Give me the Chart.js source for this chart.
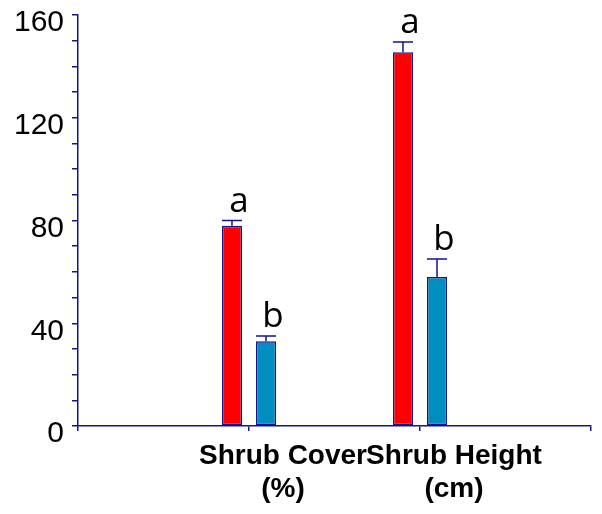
<!DOCTYPE html>
<html>
<head>
<meta charset="utf-8">
<script src="https://cdn.jsdelivr.net/npm/chart.js@4.4.0/dist/chart.umd.min.js"></script>
<style>
  body { margin: 0; background: #fff; }
</style>
</head>
<body>
<canvas id="BarChart" width="602" height="514"></canvas>
<script>
// categories (empty slots at both ends, as in the original axis)
var categories = ['', ['Shrub Cover', '(%)'], ['Shrub Height', '(cm)'], ''];
var redValues = [78, 145.5];
var redErrors = [2, 4];
var redLetters = ['a', 'a'];
var blueValues = [33, 58];
var blueErrors = [2, 7];
var blueLetters = ['b', 'b'];
var yTicks = [0, 40, 80, 120, 160];

function pad(arr) { return [null].concat(arr, [null]); }

var navy = '#14148c';

// error bars + significance letters
var errorBarPlugin = {
  id: 'errorBars',
  afterDatasetsDraw: function (chart) {
    var ctx = chart.ctx;
    var yScale = chart.scales.y;
    chart.data.datasets.forEach(function (ds, di) {
      var meta = chart.getDatasetMeta(di);
      meta.data.forEach(function (bar, i) {
        var v = ds.data[i];
        if (v === null) return;
        var err = ds.errors[i];
        var top = yScale.getPixelForValue(v);
        var cap = yScale.getPixelForValue(v + err);
        var half = bar.width / 2;
        ctx.save();
        ctx.strokeStyle = navy;
        ctx.lineWidth = 1.5;
        ctx.beginPath();
        ctx.moveTo(bar.x, top);
        ctx.lineTo(bar.x, cap);
        ctx.moveTo(bar.x - half, cap);
        ctx.lineTo(bar.x + half, cap);
        ctx.stroke();
        ctx.fillStyle = '#000';
        ctx.font = '35px "Open Sans"';
        ctx.textAlign = 'center';
        ctx.textBaseline = 'alphabetic';
        ctx.fillText(ds.letters[i], bar.x + 7, cap - 9);
        ctx.restore();
      });
    });
  }
};

var ctx = document.getElementById('BarChart').getContext('2d');
var myChart = new Chart(ctx, {
  type: 'bar',
  data: {
    labels: categories,
    datasets: [{
      data: pad(redValues),
      errors: pad(redErrors),
      letters: pad(redLetters),
      backgroundColor: '#ff0000',
      borderColor: navy,
      borderWidth: 1.5,
      borderSkipped: false,
      categoryPercentage: 0.398,
      barPercentage: 0.59
    }, {
      data: pad(blueValues),
      errors: pad(blueErrors),
      letters: pad(blueLetters),
      backgroundColor: '#008ec0',
      borderColor: navy,
      borderWidth: 1.5,
      borderSkipped: false,
      categoryPercentage: 0.398,
      barPercentage: 0.59
    }]
  },
  options: {
    responsive: false,
    animation: false,
    devicePixelRatio: 1,
    layout: { padding: { top: 15, right: 11, left: 0, bottom: 0 } },
    plugins: {
      legend: { display: false },
      tooltip: { enabled: false }
    },
    scales: {
      x: {
        offset: false,
        grid: { offset: false, drawOnChartArea: false, drawTicks: true, tickLength: 5, color: navy, lineWidth: 1.5 },
        border: { color: navy, width: 1.5 },
        ticks: {
          autoSkip: false,
          maxRotation: 0,
          labelOffset: 34,
          padding: 8,
          color: '#000',
          font: { family: '"Liberation Sans", Arial', size: 28, weight: 'bold', lineHeight: 1.2 }
        },
        afterFit: function (s) { s.height = 88; s.paddingLeft = 0; s.paddingRight = 0; }
      },
      y: {
        min: 0,
        max: 160,
        grid: { drawOnChartArea: false, drawTicks: true, tickLength: 6, color: navy, lineWidth: 1.5 },
        border: { color: navy, width: 1.5 },
        ticks: {
          stepSize: 10,
          autoSkip: false,
          labelOffset: 8,
          padding: 8,
          color: '#000',
          font: { family: '"Liberation Sans", Arial', size: 30 },
          callback: function (v) { return yTicks.indexOf(v) >= 0 ? String(v) : ''; }
        },
        afterFit: function (s) { s.width = 78; s.paddingTop = 0; s.paddingBottom = 0; }
      }
    }
  },
  plugins: [errorBarPlugin]
});
</script>
</body>
</html>
